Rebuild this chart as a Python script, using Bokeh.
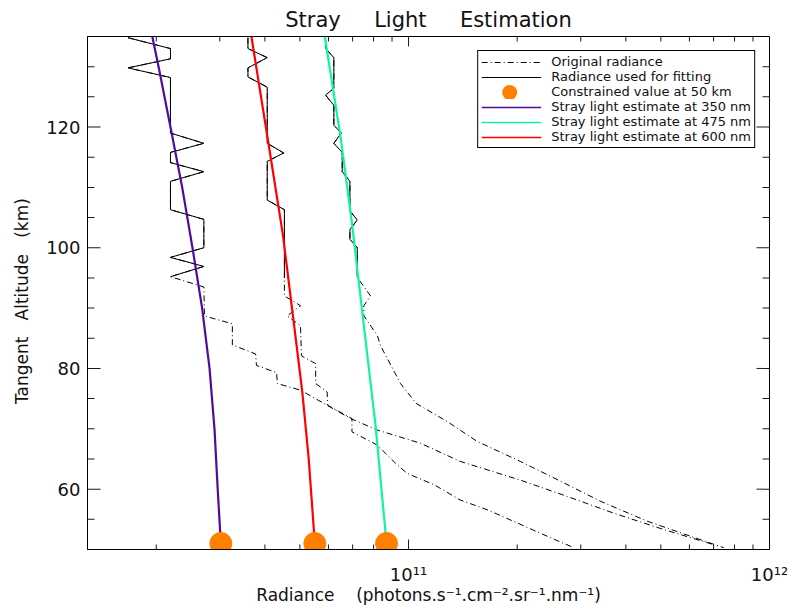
import math
from bokeh.plotting import figure
from bokeh.models import (Range1d, FixedTicker, CustomJSTickFormatter, Legend, LegendItem)
from bokeh.embed import file_html
from bokeh.resources import INLINE

# ---------------- data ----------------
# Original radiance profiles (tangent altitude km, radiance photons/s/cm2/sr/nm)
alt_350 = [134.8, 133.0, 131.3, 129.8, 128.2, 119.0, 117.3, 115.8, 114.1, 112.6, 111.0, 106.3,
           104.7, 100.0, 98.4, 96.9, 95.2, 93.5, 88.7, 87.4, 83.9, 82.4, 80.5, 79.3,
           77.5, 76.4, 73.9, 71.7, 69.8, 67.6, 64.6, 61.5, 58.8, 56.0, 53.3, 50.8]
rad_350 = [1.67e10, 2.19e10, 2.19e10, 1.67e10, 2.19e10, 2.19e10, 2.71e10, 2.19e10, 2.19e10, 2.71e10, 2.19e10, 2.19e10,
           2.71e10, 2.71e10, 2.19e10, 2.71e10, 2.19e10, 2.71e10, 2.72e10, 3.25e10, 3.25e10, 3.77e10, 3.79e10, 4.31e10,
           4.33e10, 5.02e10, 5.95e10, 6.91e10, 8.19e10, 1.08e11, 1.39e11, 2.04e11, 2.75e11, 3.71e11, 5.10e11, 7.01e11]

alt_475 = [134.8, 133.0, 131.5, 126.4, 125.3, 123.6, 120.3, 119.0, 117.3, 115.8, 112.6, 111.0,
           106.1, 104.6, 103.0, 101.4, 100.0, 95.1, 92.0, 90.4, 88.7, 85.5, 83.8, 77.5,
           74.2, 71.2, 67.9, 64.6, 61.3, 58.0, 54.7, 52.2, 50.3]
rad_475 = [5.89e10, 5.89e10, 6.21e10, 6.21e10, 5.89e10, 6.21e10, 6.21e10, 6.51e10, 6.21e10, 6.55e10, 6.55e10, 6.88e10,
           6.88e10, 7.21e10, 6.88e10, 6.88e10, 7.21e10, 7.21e10, 7.85e10, 7.52e10, 7.52e10, 8.19e10, 8.36e10, 9.50e10,
           1.05e11, 1.28e11, 1.55e11, 2.04e11, 2.64e11, 3.40e11, 4.58e11, 6.04e11, 7.47e11]

alt_600 = [134.8, 133.0, 131.5, 129.8, 128.3, 126.6, 117.3, 115.7, 114.3, 107.9, 106.3, 95.0,
           92.0, 90.4, 88.7, 87.1, 82.1, 80.8, 77.5, 76.1, 73.9, 71.7, 69.5, 67.3,
           64.0, 62.6, 60.7, 58.2, 56.6, 54.4, 52.2, 50.3]
rad_600 = [3.59e10, 3.59e10, 4.06e10, 3.59e10, 3.59e10, 4.06e10, 4.06e10, 4.51e10, 4.06e10, 4.06e10, 4.53e10, 4.53e10,
           4.53e10, 5.02e10, 4.61e10, 5.02e10, 5.05e10, 5.53e10, 5.53e10, 5.95e10, 5.97e10, 6.97e10, 6.97e10, 8.19e10,
           9.31e10, 9.92e10, 1.18e11, 1.39e11, 1.65e11, 2.00e11, 2.42e11, 2.87e11]

# lowest altitude of the part used for fitting
fit_min_alt = 94.9

# Stray light estimates
sl_alt_350 = [135, 130, 120, 110, 100, 90, 80, 70, 60, 51]
sl_rad_350 = [1.95e10, 2.03e10, 2.19e10, 2.36e10, 2.52e10, 2.68e10, 2.81e10, 2.90e10, 2.96e10, 3.02e10]
sl_alt_475 = [135, 118.4, 104.1, 87.1, 70.6, 51]
sl_rad_475 = [5.86e10, 6.48e10, 6.97e10, 7.52e10, 8.10e10, 8.69e10]
sl_alt_600 = [135, 115, 102, 88, 76, 65, 51]
sl_rad_600 = [3.67e10, 4.15e10, 4.49e10, 4.80e10, 5.08e10, 5.29e10, 5.50e10]

# Constrained values at the bottom
dot_alt = [51, 51, 51]
dot_rad = [3.02e10, 5.50e10, 8.69e10]

# axis ranges and ticks
X_MIN, X_MAX = 1.29e10, 1e12
Y_MIN, Y_MAX = 50, 135
x_major = [1e11, 1e12]
x_minor = [2e10, 3e10, 4e10, 5e10, 6e10, 7e10, 8e10, 9e10,
           2e11, 3e11, 4e11, 5e11, 6e11, 7e11, 8e11, 9e11]
y_major = [60, 80, 100, 120]
y_minor = [55, 65, 70, 75, 85, 90, 95, 105, 110, 115, 125, 130]

# layout (pixels)
W, H = 790, 607
B_LEFT, B_RIGHT, B_TOP, B_BOTTOM = 87, 21, 36, 56
FRAME_W = W - B_LEFT - B_RIGHT
FRAME_H = H - B_TOP - B_BOTTOM

FONT = "DejaVu Sans"
C350 = "#500aa0"
C475 = "#10f59c"
C600 = "#ff0000"
CDOT = "#ff7f00"
DASHDOT = "6 3 1 3"
NB = "\u00a0"
NAN = float("nan")

p = figure(width=W, height=H, x_axis_type="log",
           x_range=Range1d(X_MIN, X_MAX), y_range=Range1d(Y_MIN, Y_MAX),
           output_backend="svg", toolbar_location=None,
           title="Stray" + NB * 5 + "Light" + NB * 5 + "Estimation")
p.min_border_left = B_LEFT
p.min_border_right = B_RIGHT
p.min_border_top = B_TOP
p.min_border_bottom = B_BOTTOM
p.grid.visible = False
p.outline_line_color = "black"
p.outline_line_alpha = 1
p.outline_line_width = 1
p.background_fill_color = "white"
p.border_fill_color = "white"

p.title.align = "center"
p.title.text_font = FONT
p.title.text_font_size = "21px"
p.title.text_font_style = "normal"
p.title.text_color = "#111111"
p.title.standoff = 10

sup_fmt = CustomJSTickFormatter(code="""
const sup = {"0":"\u2070","1":"\u00b9","2":"\u00b2","3":"\u00b3","4":"\u2074",
             "5":"\u2075","6":"\u2076","7":"\u2077","8":"\u2078","9":"\u2079","-":"\u207b"};
const e = Math.round(Math.log10(tick));
return "10" + String(e).split("").map(c => sup[c]).join("");
""")


def style_axis(ax):
    ax.axis_line_color = "black"
    ax.major_tick_line_color = None
    ax.minor_tick_line_color = None
    ax.major_tick_out = 0
    ax.minor_tick_out = 0
    ax.major_tick_in = 0
    ax.minor_tick_in = 0
    ax.major_label_text_font = FONT
    ax.major_label_text_font_size = "18px"
    ax.major_label_text_color = "#111111"
    ax.axis_label_text_font = FONT
    ax.axis_label_text_font_size = "17px"
    ax.axis_label_text_font_style = "normal"
    ax.axis_label_text_color = "#111111"


xa = p.xaxis[0]
xa.ticker = FixedTicker(ticks=x_major, minor_ticks=x_minor)
xa.formatter = sup_fmt
xa.axis_label = "Radiance" + NB * 4 + "(photons.s\u207b\u00b9.cm\u207b\u00b2.sr\u207b\u00b9.nm\u207b\u00b9)"
style_axis(xa)
xa.major_label_standoff = 14
xa.axis_label_standoff = -3

ya = p.yaxis[0]
ya.ticker = FixedTicker(ticks=y_major, minor_ticks=y_minor)
ya.axis_label = "Tangent" + NB * 3 + "Altitude" + NB * 3 + "(km)" + NB * 3
style_axis(ya)
ya.major_label_standoff = 7
ya.axis_label_standoff = 11

# ---------------- inward tick marks on all four sides (thin filled bars) ----------------
x_ticks = x_major + x_minor
x_tick_px = [10] * len(x_major) + [5] * len(x_minor)
y_ticks = y_major + y_minor
y_tick_px = [13] * len(y_major) + [7] * len(y_minor)
km_per_px = (Y_MAX - Y_MIN) / FRAME_H
dec_per_px = math.log10(X_MAX / X_MIN) / FRAME_W
HALF = 0.5
q_left, q_right, q_bottom, q_top = [], [], [], []
for t, L in zip(x_ticks, x_tick_px):
    lo = t * 10 ** (-HALF * dec_per_px)
    hi = min(t * 10 ** (HALF * dec_per_px), X_MAX)
    q_left += [lo, lo]
    q_right += [hi, hi]
    q_bottom += [Y_MIN, Y_MAX - L * km_per_px]
    q_top += [Y_MIN + L * km_per_px, Y_MAX]
for t, L in zip(y_ticks, y_tick_px):
    q_left += [X_MIN, X_MAX / 10 ** (L * dec_per_px)]
    q_right += [X_MIN * 10 ** (L * dec_per_px), X_MAX]
    q_bottom += [t - HALF * km_per_px, t - HALF * km_per_px]
    q_top += [t + HALF * km_per_px, t + HALF * km_per_px]
p.quad(left=q_left, right=q_right, bottom=q_bottom, top=q_top,
       fill_color="#1a1a1a", line_color=None)

# ---------------- glyphs ----------------
profiles = [(alt_350, rad_350), (alt_475, rad_475), (alt_600, rad_600)]
for alts, rads in profiles:
    p.line(rads, alts, line_color="black", line_width=1, line_dash=DASHDOT)
for alts, rads in profiles:
    fa = [a for a in alts if a >= fit_min_alt]
    fr = [r for a, r in zip(alts, rads) if a >= fit_min_alt]
    p.line(fr, fa, line_color="black", line_width=1)

p.line(sl_rad_350, sl_alt_350, line_color=C350, line_width=2.2)
p.line(sl_rad_475, sl_alt_475, line_color=C475, line_width=2.2)
p.line(sl_rad_600, sl_alt_600, line_color=C600, line_width=2.2)

p.scatter(dot_rad, dot_alt, size=22, fill_color=CDOT, line_color=CDOT)

# legend samples (renderers holding a single NaN point, so only the key is drawn)
l_orig = p.line([NAN], [NAN], line_color="black", line_width=1, line_dash=DASHDOT)
l_fit = p.line([NAN], [NAN], line_color="black", line_width=1)
l_dot = p.line([NAN], [NAN], line_color=CDOT, line_width=15, line_cap="round",
               line_dash="0 100", line_dash_offset=72)
l_350 = p.line([NAN], [NAN], line_color=C350, line_width=1.3)
l_475 = p.line([NAN], [NAN], line_color=C475, line_width=1.3)
l_600 = p.line([NAN], [NAN], line_color=C600, line_width=1.3)

legend = Legend(items=[
    LegendItem(label="Original radiance", renderers=[l_orig]),
    LegendItem(label="Radiance used for fitting", renderers=[l_fit]),
    LegendItem(label="Constrained value at 50 km", renderers=[l_dot]),
    LegendItem(label="Stray light estimate at 350 nm", renderers=[l_350]),
    LegendItem(label="Stray light estimate at 475 nm", renderers=[l_475]),
    LegendItem(label="Stray light estimate at 600 nm", renderers=[l_600]),
], location="top_right")
legend.margin = 14
legend.padding = 3
legend.spacing = 0
legend.glyph_width = 60
legend.glyph_height = 14
legend.label_height = 14
legend.label_standoff = 10
legend.label_text_font = FONT
legend.label_text_font_size = "13px"
legend.label_text_color = "#111111"
legend.border_line_color = "black"
legend.border_line_width = 1
legend.border_line_alpha = 1
legend.background_fill_color = "white"
legend.background_fill_alpha = 1
p.add_layout(legend, "center")

open("out.html", "w").write(file_html(p, INLINE))
